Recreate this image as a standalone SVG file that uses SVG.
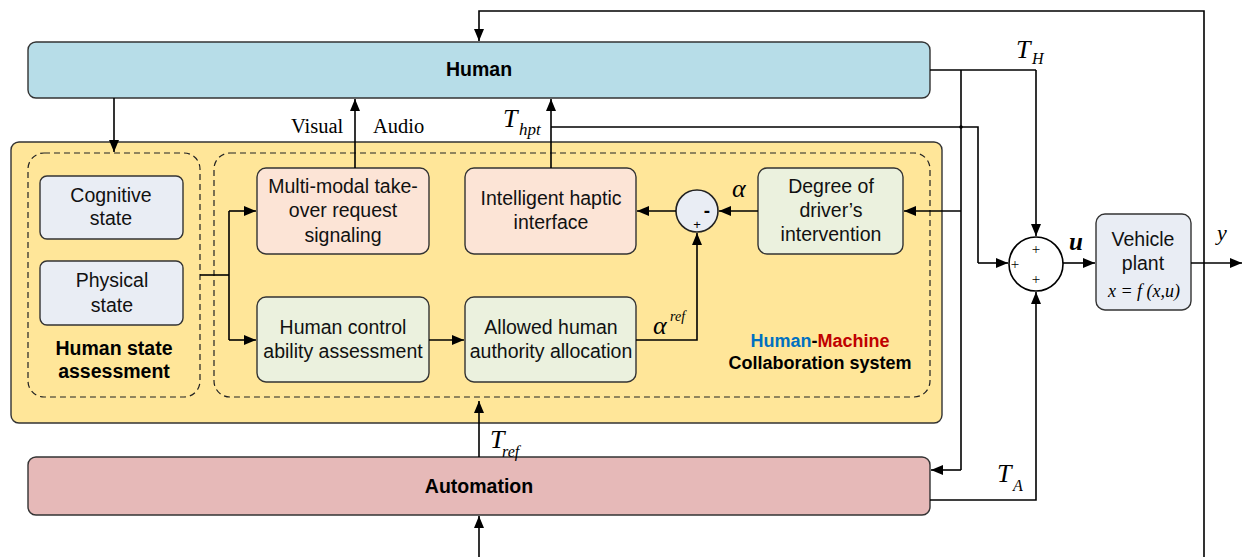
<svg xmlns="http://www.w3.org/2000/svg" width="1242" height="557" viewBox="0 0 1242 557">
<defs>
<marker id="ah" viewBox="0 0 12 10" refX="12" refY="5" markerWidth="12" markerHeight="10" markerUnits="userSpaceOnUse" orient="auto">
<path d="M0,0 L12,5 L0,10 z" fill="#000"/>
</marker>
<style>
.box{stroke:#333;stroke-width:1.4}
.dash{fill:none;stroke:#222;stroke-width:1.2;stroke-dasharray:6 4}
.ln{fill:none;stroke:#000;stroke-width:1.6}
.arr{fill:none;stroke:#000;stroke-width:1.6;marker-end:url(#ah)}
.t{font-family:"Liberation Sans",Arial,sans-serif;font-size:19.5px;fill:#111;text-anchor:middle}
.b{font-family:"Liberation Sans",Arial,sans-serif;font-size:19.5px;font-weight:bold;fill:#000;text-anchor:middle}
.s{font-family:"Liberation Serif","Times New Roman",serif;fill:#000}
.i{font-family:"Liberation Serif","Times New Roman",serif;font-style:italic;fill:#000}
</style>
</defs>

<g id="container">
<rect x="11" y="142" width="931" height="281" rx="8" fill="#ffe699" class="box"/>
<rect x="28" y="153" width="172" height="244" rx="16" class="dash"/>
<rect x="214" y="153" width="716" height="244" rx="16" class="dash"/>
<text class="b" x="114" y="355">Human state</text>
<text class="b" x="114" y="378">assessment</text>
<text class="b" x="820" y="347" style="font-size:18px"><tspan fill="#0070c0">Human</tspan><tspan fill="#000">-</tspan><tspan fill="#c00000">Machine</tspan></text>
<text class="b" x="820" y="369" style="font-size:18px">Collaboration system</text>
</g>

<g id="human">
<rect x="28" y="42" width="902" height="56" rx="8" fill="#b7dde8" class="box"/>
<text class="b" x="479" y="76">Human</text>
</g>
<g id="automation">
<rect x="28" y="457" width="902" height="58" rx="8" fill="#e6b9b8" class="box"/>
<text class="b" x="479" y="493">Automation</text>
</g>
<g id="cognitive">
<rect x="40" y="176" width="143" height="63" rx="7" fill="#e9edf4" class="box"/>
<text class="t" x="111" y="202">Cognitive</text>
<text class="t" x="111" y="225">state</text>
</g>
<g id="physical">
<rect x="40" y="261" width="143" height="64" rx="7" fill="#e9edf4" class="box"/>
<text class="t" x="112" y="287">Physical</text>
<text class="t" x="112" y="312">state</text>
</g>
<g id="multimodal">
<rect x="257" y="168" width="172" height="86" rx="9" fill="#fce4d6" class="box"/>
<text class="t" x="343" y="193">Multi-modal take-</text>
<text class="t" x="343" y="217">over request</text>
<text class="t" x="343" y="242">signaling</text>
</g>
<g id="haptic">
<rect x="465" y="168" width="171" height="86" rx="9" fill="#fce4d6" class="box"/>
<text class="t" x="551" y="205">Intelligent haptic</text>
<text class="t" x="551" y="229">interface</text>
</g>
<g id="degree">
<rect x="758" y="168" width="145" height="86" rx="9" fill="#ebf1de" class="box"/>
<text class="t" x="831" y="193">Degree of</text>
<text class="t" x="831" y="217">driver’s</text>
<text class="t" x="831" y="241">intervention</text>
</g>
<g id="control">
<rect x="257" y="297" width="172" height="85" rx="9" fill="#ebf1de" class="box"/>
<text class="t" x="343" y="334">Human control</text>
<text class="t" x="343" y="358">ability assessment</text>
</g>
<g id="authority">
<rect x="465" y="297" width="171" height="85" rx="9" fill="#ebf1de" class="box"/>
<text class="t" x="551" y="334">Allowed human</text>
<text class="t" x="551" y="358">authority allocation</text>
</g>
<g id="sum1">
<circle cx="697" cy="211" r="21" fill="#e9edf4" stroke="#222" stroke-width="1.6"/>
<text x="707" y="217" style="font-family:'Liberation Sans',Arial,sans-serif;font-size:19px;font-weight:bold;text-anchor:middle">-</text>
<text x="697" y="229" style="font-family:'Liberation Sans',Arial,sans-serif;font-size:13px;text-anchor:middle">+</text>
</g>
<g id="sum2">
<circle cx="1036" cy="264" r="27" fill="#fff" stroke="#000" stroke-width="1.6"/>
<text x="1036" y="254" class="s" style="font-size:15px;text-anchor:middle">+</text>
<text x="1015" y="269" class="s" style="font-size:15px;text-anchor:middle">+</text>
<text x="1036" y="284" class="s" style="font-size:15px;text-anchor:middle">+</text>
</g>
<g id="vehicle">
<rect x="1096" y="214" width="95" height="96" rx="9" fill="#e9edf4" class="box"/>
<text class="t" x="1143" y="246">Vehicle</text>
<text class="t" x="1143" y="270">plant</text>
<text class="i" x="1144" y="297" style="font-size:18px;text-anchor:middle">x = f (x,u)</text>
</g>

<g id="connectors">
<polyline class="arr" points="1204,557 1204,11 479,11 479,41"/>
<polyline class="arr" points="114,98 114,152"/>
<polyline class="arr" points="355,168 355,99"/>
<polyline class="arr" points="551,168 551,99"/>
<polyline class="ln" points="551,127 978,127 978,263"/>
<polyline class="arr" points="978,263 1008,263"/>
<polyline class="ln" points="930,70 1036,70"/>
<polyline class="arr" points="1036,70 1036,236"/>
<polyline class="ln" points="961,70 961,470"/>
<polyline class="arr" points="961,470 931,470"/>
<polyline class="arr" points="961,211 904,211"/>
<circle cx="961" cy="127" r="1.8" fill="#000"/>
<polyline class="arr" points="930,500 1036,500 1036,292"/>
<polyline class="arr" points="1063,263 1095,263"/>
<polyline class="arr" points="1191,263 1242,263"/>
<polyline class="arr" points="479,457 479,401"/>
<polyline class="arr" points="479,557 479,516"/>
<polyline class="ln" points="200,275 229,275"/>
<polyline class="ln" points="229,211 229,340"/>
<polyline class="arr" points="229,211 256,211"/>
<polyline class="arr" points="229,340 256,340"/>
<polyline class="arr" points="429,340 464,340"/>
<polyline class="arr" points="636,340 697,340 697,233"/>
<polyline class="arr" points="758,211 719,211"/>
<polyline class="arr" points="676,211 637,211"/>
</g>

<g id="labels">
<text class="s" x="291" y="133" style="font-size:20.5px">Visual</text>
<text class="s" x="373" y="133" style="font-size:20.5px">Audio</text>
<text class="i" x="503" y="127" style="font-size:26px">T</text>
<text class="i" x="519" y="135" style="font-size:17px">hpt</text>
<text class="i" x="1016" y="58" style="font-size:26px">T</text>
<text class="i" x="1032" y="64" style="font-size:16px">H</text>
<text class="i" x="997" y="482" style="font-size:26px">T</text>
<text class="i" x="1013" y="491" style="font-size:16px">A</text>
<text class="i" x="490" y="448" style="font-size:26px">T</text>
<text class="i" x="502" y="457" style="font-size:16px">ref</text>
<text class="i" x="732" y="197" style="font-size:26px">α</text>
<text class="i" x="653" y="334" style="font-size:26px">α</text>
<text class="i" x="670" y="321" style="font-size:14px">ref</text>
<text class="i" x="1069" y="250" style="font-size:25px;font-weight:bold">u</text>
<text class="i" x="1217" y="240" style="font-size:22px">y</text>
</g>
</svg>
